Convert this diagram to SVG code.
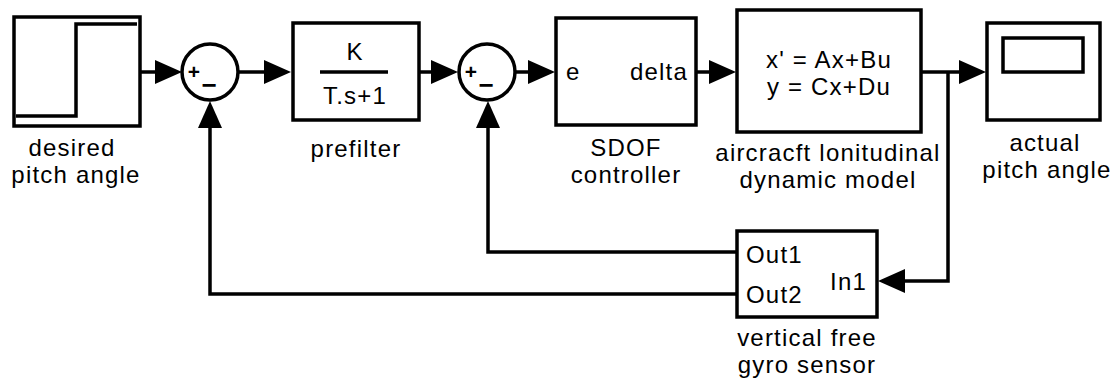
<svg xmlns="http://www.w3.org/2000/svg" width="1114" height="383" viewBox="0 0 1114 383">
<defs>
<style>
.blk{fill:#fff;stroke:#000;stroke-width:3.5}
.ln{fill:none;stroke:#000;stroke-width:3.5}
.t{font-family:"Liberation Sans",Arial,sans-serif;font-size:24px;fill:#000;letter-spacing:1.2px}
.c{text-anchor:middle}
.e{text-anchor:end}
.sg{font-family:"Liberation Sans",Arial,sans-serif;font-weight:bold;fill:#000;text-anchor:middle}
</style>
<marker id="ah" markerUnits="userSpaceOnUse" markerWidth="27" markerHeight="24" refX="22" refY="12" orient="auto">
<path d="M0,0 L27,12 L0,24 Z" fill="#000"/>
</marker>
</defs>
<rect width="1114" height="383" fill="#fff"/>

<g id="connectors">
<path class="ln" d="M140,72 H177" marker-end="url(#ah)"/>
<path class="ln" d="M238,72 H286" marker-end="url(#ah)"/>
<path class="ln" d="M419,72 H453" marker-end="url(#ah)"/>
<path class="ln" d="M516,72 H550" marker-end="url(#ah)"/>
<path class="ln" d="M696,72 H731" marker-end="url(#ah)"/>
<path class="ln" d="M921,72 H981" marker-end="url(#ah)"/>
<path class="ln" d="M948,72 V281 H883" marker-end="url(#ah)"/>
<path class="ln" d="M737,252 H488 V106" marker-end="url(#ah)"/>
<path class="ln" d="M737,294 H210 V106" marker-end="url(#ah)"/>
</g>

<g id="step">
<rect class="blk" x="14" y="17" width="126" height="109"/>
<path class="ln" d="M16,116 H76 V24 H137"/>
<text class="t c" x="72" y="156">desired</text>
<text class="t c" x="76" y="183">pitch angle</text>
</g>

<g id="sum1">
<circle class="blk" cx="210" cy="72" r="28"/>
<text class="sg" x="194" y="79" font-size="21">+</text>
<text class="sg" x="209" y="94" font-size="26">−</text>
</g>

<g id="prefilter">
<rect class="blk" x="293" y="23" width="126" height="97"/>
<text class="t c" x="355" y="60" font-size="25">K</text>
<path class="ln" d="M320,72 H388"/>
<text class="t c" x="355" y="104" font-size="25">T.s+1</text>
<text class="t c" x="356" y="157">prefilter</text>
</g>

<g id="sum2">
<circle class="blk" cx="487" cy="72" r="28"/>
<text class="sg" x="471" y="79" font-size="21">+</text>
<text class="sg" x="486" y="94" font-size="26">−</text>
</g>

<g id="sdof">
<rect class="blk" x="556" y="18" width="140" height="107"/>
<text class="t" x="566" y="80">e</text>
<text class="t e" x="688" y="80">delta</text>
<text class="t c" x="626" y="156">SDOF</text>
<text class="t c" x="626" y="183">controller</text>
</g>

<g id="statespace">
<rect class="blk" x="737" y="10" width="184" height="122"/>
<text class="t c" x="829" y="68" font-size="25" letter-spacing="0.8">x' = Ax+Bu</text>
<text class="t c" x="829" y="95" font-size="25" letter-spacing="0.8">y = Cx+Du</text>
<text class="t c" x="828" y="161">aircracft lonitudinal</text>
<text class="t c" x="828" y="188">dynamic model</text>
</g>

<g id="scope">
<rect class="blk" x="987" y="23" width="113" height="97"/>
<rect class="blk" x="1003" y="38" width="80" height="34"/>
<text class="t c" x="1045" y="151">actual</text>
<text class="t c" x="1047" y="178">pitch angle</text>
</g>

<g id="gyro">
<rect class="blk" x="737" y="231" width="140" height="86"/>
<text class="t" x="746" y="263">Out1</text>
<text class="t" x="746" y="303">Out2</text>
<text class="t e" x="867" y="290">In1</text>
<text class="t c" x="807" y="346">vertical free</text>
<text class="t c" x="807" y="373">gyro sensor</text>
</g>
</svg>
